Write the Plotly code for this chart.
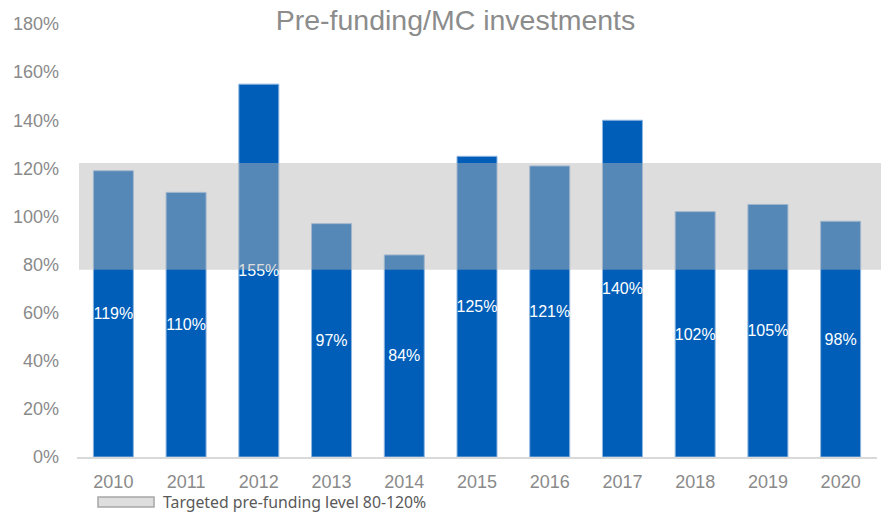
import plotly.graph_objects as go

# Pre-funding ratio of MC investments by year
years = ["2010", "2011", "2012", "2013", "2014", "2015", "2016", "2017", "2018", "2019", "2020"]
prefunding_pct = [119, 110, 155, 97, 84, 125, 121, 140, 102, 105, 98]
value_labels = ["119%", "110%", "155%", "97%", "84%", "125%", "121%", "140%", "102%", "105%", "98%"]

# Targeted pre-funding corridor (shaded band)
target_band = [77.8, 122.2]
legend_text = "Targeted pre-funding level 80-120%"

y_ticks = [0, 20, 40, 60, 80, 100, 120, 140, 160, 180]
y_tick_labels = [f"{v}%" for v in y_ticks]

BAR_BLUE = "#005EB8"
AXIS_GREY = "#8a8a8a"

fig = go.Figure(
    go.Bar(
        x=years,
        y=prefunding_pct,
        text=value_labels,
        textposition="inside",
        insidetextanchor="middle",
        constraintext="none",
        textangle=0,
        textfont=dict(family="Liberation Sans, Arial, sans-serif", size=16, color="white"),
        marker=dict(color=BAR_BLUE, line=dict(color="#8fb6e0", width=1)),
        width=0.55,
        hoverinfo="x+y",
        showlegend=False,
    )
)

fig.update_layout(
    width=881,
    height=514,
    margin=dict(l=77, r=4, t=24, b=57),
    paper_bgcolor="white",
    plot_bgcolor="white",
    font=dict(family="Liberation Sans, Arial, sans-serif", color=AXIS_GREY),
    title=dict(
        text="Pre-funding/MC investments",
        x=0.517,
        xanchor="center",
        y=1 - 20 / 514,
        yanchor="middle",
        yref="container",
        font=dict(size=28.5, color="#8c8c8c"),
    ),
    bargap=0.45,
    xaxis=dict(
        type="category",
        showgrid=False,
        showline=True,
        linecolor="#d9d9d9",
        linewidth=1.5,
        ticks="",
        tickfont=dict(size=18, color=AXIS_GREY),
        ticklabelstandoff=8,
    ),
    yaxis=dict(
        range=[0, 180],
        tickvals=y_ticks,
        ticktext=y_tick_labels,
        showgrid=False,
        zeroline=False,
        showline=False,
        ticks="",
        tickfont=dict(size=18, color=AXIS_GREY),
        ticklabelstandoff=17,
    ),
    shapes=[
        # target corridor drawn over the bars
        dict(
            type="rect",
            xref="paper",
            yref="y",
            x0=0.0025,
            x1=1.01,
            y0=target_band[0],
            y1=target_band[1],
            fillcolor="rgba(182,182,182,0.467)",
            line=dict(width=0),
            layer="above",
        ),
        # legend swatch
        dict(
            type="rect",
            xref="paper",
            yref="paper",
            x0=(98 - 77) / 800,
            x1=(154 - 77) / 800,
            y0=-(497 - 457) / 433,
            y1=-(507 - 457) / 433,
            fillcolor="#dedede",
            line=dict(color="#a6a6a6", width=1.5),
        ),
    ],
    annotations=[
        dict(
            text=legend_text,
            xref="paper",
            yref="paper",
            x=(161 - 77) / 800,
            y=-(502 - 457) / 433,
            xanchor="left",
            yanchor="middle",
            showarrow=False,
            font=dict(family="Noto Sans, sans-serif", size=15.8, color="#595959"),
        )
    ],
)

fig.write_html("out.html")
